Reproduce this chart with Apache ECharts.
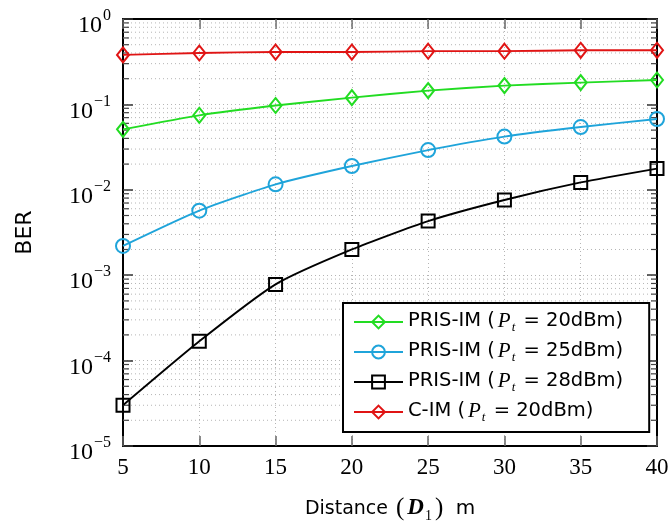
<!DOCTYPE html>
<html>
<head>
<meta charset="utf-8">
<script src="https://cdn.jsdelivr.net/npm/echarts@6/dist/echarts.min.js"></script>
<style>
  html, body { margin: 0; padding: 0; background: #fff; }
  #chart { width: 670px; height: 521px; }
</style>
</head>
<body>
<div id="chart"></div>
<script>
// ---- data ----
const distances = [5, 10, 15, 20, 25, 30, 35, 40];
const berPris20 = [0.051, 0.0745, 0.097, 0.12, 0.145, 0.166, 0.18, 0.193];
const berPris25 = [0.0022, 0.0057, 0.0116, 0.019, 0.0292, 0.042, 0.0543, 0.0675];
const berPris28 = [3.0e-5, 1.68e-4, 7.8e-4, 2.0e-3, 4.3e-3, 7.6e-3, 0.0122, 0.0177];
const berCim20  = [0.38, 0.40, 0.41, 0.41, 0.42, 0.42, 0.43, 0.43];
const seriesNames = [
  'PRIS-IM (Pt = 20dBm)',
  'PRIS-IM (Pt = 25dBm)',
  'PRIS-IM (Pt = 28dBm)',
  'C-IM (Pt = 20dBm)'
];
const xTickValues = [5, 10, 15, 20, 25, 30, 35, 40];
const yDecadeExponents = [-5, -4, -3, -2, -1, 0];
const minorMantissas = [2, 3, 4, 5, 6, 7, 8, 9];

// ---- helpers ----
const xMin = xTickValues[0], xMax = xTickValues[xTickValues.length - 1];
const yMin = Math.pow(10, yDecadeExponents[0]);
const yMax = Math.pow(10, yDecadeExponents[yDecadeExponents.length - 1]);
const minorVals = [];
yDecadeExponents.slice(0, -1).forEach(e => {
  minorMantissas.forEach(m => minorVals.push([xMin, m * Math.pow(10, e)]));
});
const pair = ys => distances.map((d, i) => [d, ys[i]]);

const GREEN = '#22dc22', BLUE = '#1fa4da', BLACK = '#000000', RED = '#e01414';
const SANS = 'DejaVu Sans', SERIF = 'Liberation Serif';

function legendFmt(name) {
  const m = name.match(/^(.*)\(Pt = (.*)\)$/);
  return '{n|' + m[1] + '(}{i|P}{sub|t}{n| = ' + m[2] + ')}';
}

function mkLine(name, ys, color, symbol, size) {
  return {
    name: name, type: 'line', data: pair(ys),
    smooth: 0.2,
    symbol: symbol, symbolSize: size,
    showSymbol: true,
    lineStyle: { color: color, width: 1.9 },
    itemStyle: { color: 'rgba(255,255,255,0)', borderColor: color, borderWidth: 2 },
    z: 5
  };
}

const chart = echarts.init(document.getElementById('chart'));
const option = {
  animation: false,
  backgroundColor: '#fff',
  grid: { left: 123, right: 13, top: 19, bottom: 75, containLabel: false, outerBoundsMode: 'none' },
  xAxis: [{
    type: 'value', min: xMin, max: xMax, interval: 5,
    position: 'bottom',
    axisLine: { show: true, onZero: false, lineStyle: { color: '#000', width: 2 } },
    axisTick: { show: true, inside: true, length: 10, lineStyle: { color: '#666', width: 1.5 } },
    axisLabel: { margin: 10, color: '#000', fontFamily: SERIF, fontSize: 23 },
    splitLine: { show: true, lineStyle: { color: '#b5b5b5', width: 1, type: [1, 3] } },
    name: '{n|Distance }{p|(}{i|D}{sub|1}{p|)}{m| m}',
    nameLocation: 'middle', nameGap: 50,
    nameTextStyle: {
      color: '#000',
      rich: {
        n: { fontFamily: SANS, fontSize: 19, color: '#000', verticalAlign: 'top', lineHeight: 26, padding: [4, 2, 0, 0] },
        m: { fontFamily: SANS, fontSize: 20, color: '#000', verticalAlign: 'top', lineHeight: 26, padding: [3, 0, 0, 6] },
        p: { fontFamily: SERIF, fontSize: 25, color: '#000', verticalAlign: 'top', lineHeight: 26 },
        i: { fontFamily: SERIF, fontStyle: 'italic', fontWeight: 'bold', fontSize: 23, color: '#000', verticalAlign: 'top', lineHeight: 26, padding: [1, 1, 0, 3] },
        sub: { fontFamily: SERIF, fontSize: 14, color: '#000', verticalAlign: 'top', lineHeight: 15, padding: [13, 3, 0, 0] }
      }
    }
  }, {
    type: 'value', min: xMin, max: xMax, interval: 5,
    position: 'top',
    axisLine: { show: true, onZero: false, lineStyle: { color: '#000', width: 2 } },
    axisTick: { show: true, inside: true, length: 10, lineStyle: { color: '#666', width: 1.5 } },
    axisLabel: { show: false },
    splitLine: { show: false }
  }],
  yAxis: [{
    type: 'log', logBase: 10, min: yMin, max: yMax, splitNumber: 5,
    position: 'left',
    axisLine: { show: true, onZero: false, lineStyle: { color: '#000', width: 2 } },
    axisTick: { show: true, inside: true, length: 10, lineStyle: { color: '#333', width: 1.5 } },
    axisLabel: {
      margin: 12, color: '#000',
      padding: [8, 0, 0, 0],
      formatter: function (v) {
        const e = Math.round(Math.log10(v));
        return '{b|10}{s|' + (e === 0 ? '0' : '\u2212' + Math.abs(e)) + '}';
      },
      rich: {
        b: { fontFamily: SERIF, fontSize: 24, color: '#000', verticalAlign: 'bottom', lineHeight: 30, padding: [0, 1, 0, 0] },
        s: { fontFamily: SERIF, fontSize: 16, color: '#000', verticalAlign: 'top', lineHeight: 16 }
      }
    },
    splitLine: { show: true, lineStyle: { color: '#b5b5b5', width: 1, type: [1, 3] } },
    name: 'BER', nameLocation: 'middle', nameGap: 87,
    nameTextStyle: { fontFamily: SANS, fontSize: 22, color: '#000' }
  }, {
    type: 'log', logBase: 10, min: yMin, max: yMax, splitNumber: 5,
    position: 'right',
    axisLine: { show: true, onZero: false, lineStyle: { color: '#000', width: 2 } },
    axisTick: { show: true, inside: true, length: 10, lineStyle: { color: '#333', width: 1.5 } },
    axisLabel: { show: false },
    splitLine: { show: false }
  }],
  legend: {
    data: seriesNames,
    orient: 'vertical',
    left: 343, top: 303,
    padding: [8, 26, 8, 10],
    itemGap: 7,
    itemWidth: 49, itemHeight: 16,
    backgroundColor: '#fff',
    borderColor: '#000', borderWidth: 2, borderRadius: 0,
    formatter: legendFmt,
    textStyle: {
      color: '#000',
      rich: {
        n: { fontFamily: SANS, fontSize: 19.5, color: '#000', verticalAlign: 'top', lineHeight: 22 },
        i: { fontFamily: SERIF, fontStyle: 'italic', fontSize: 21, color: '#000', verticalAlign: 'top', lineHeight: 22, padding: [0, 1, 0, 3] },
        sub: { fontFamily: SERIF, fontStyle: 'italic', fontSize: 13, color: '#000', verticalAlign: 'top', lineHeight: 13, padding: [10, 2, 0, 0] }
      }
    }
  },
  series: [
    {
      name: 'minor-grid', type: 'custom', silent: true,
      xAxisIndex: 0, yAxisIndex: 0, z: 1,
      data: minorVals,
      renderItem: function (params, api) {
        const v = api.value(1);
        const pL = api.coord([xMin, v]);
        const pR = api.coord([xMax, v]);
        return {
          type: 'group', children: [
            { type: 'line', shape: { x1: pL[0], y1: pL[1], x2: pR[0], y2: pR[1] },
              style: { stroke: '#b5b5b5', lineWidth: 1, lineDash: [1, 3] } },
            { type: 'line', shape: { x1: pL[0], y1: pL[1], x2: pL[0] + 6, y2: pL[1] },
              style: { stroke: '#444', lineWidth: 1.2 } },
            { type: 'line', shape: { x1: pR[0] - 6, y1: pR[1], x2: pR[0], y2: pR[1] },
              style: { stroke: '#444', lineWidth: 1.2 } }
          ]
        };
      }
    },
    mkLine(seriesNames[0], berPris20, GREEN, 'diamond', [12, 15]),
    mkLine(seriesNames[1], berPris25, BLUE, 'circle', 14),
    mkLine(seriesNames[2], berPris28, BLACK, 'rect', 13),
    mkLine(seriesNames[3], berCim20, RED, 'diamond', [12, 15])
  ]
};
chart.setOption(option);
</script>
</body>
</html>
